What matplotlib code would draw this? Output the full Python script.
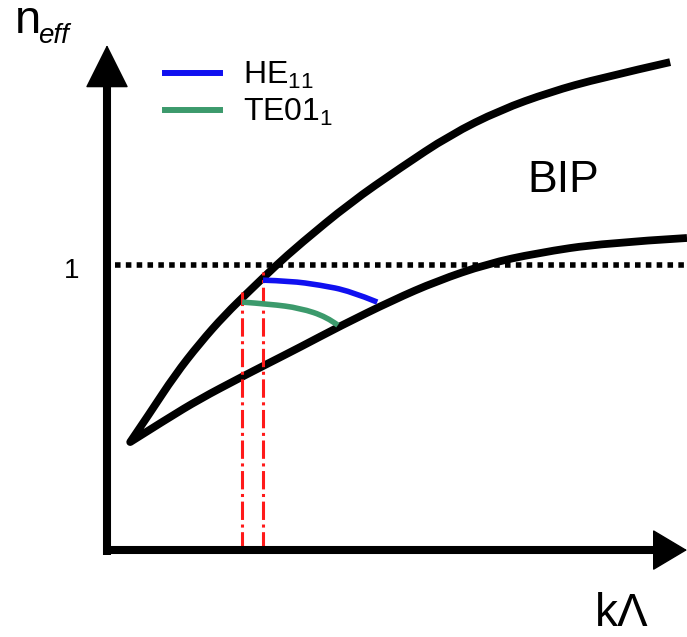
import matplotlib.pyplot as plt
from matplotlib.patches import ArrowStyle, PathPatch
from matplotlib.path import Path

plt.rcParams["font.family"] = ["Liberation Sans", "DejaVu Sans"]
plt.rcParams["mathtext.fontset"] = "custom"
plt.rcParams["mathtext.rm"] = "Liberation Sans"
plt.rcParams["mathtext.it"] = "Liberation Sans:italic"

# band gap edges (both start at the common tip)
upper_k = [0.40, 0.74, 1.17, 1.60, 2.03, 2.47, 2.90, 3.33, 4.19, 5.05, 5.91, 6.78, 7.64, 8.50, 9.71]
upper_n = [0.379, 0.481, 0.614, 0.726, 0.825, 0.912, 0.996, 1.074, 1.218, 1.340, 1.456, 1.544, 1.607, 1.656, 1.712]

lower_k = [0.40, 1.03, 1.60, 2.29, 2.76, 3.33, 4.02, 4.93, 5.69, 6.55, 7.41, 8.55, 10.0]
lower_n = [0.379, 0.460, 0.530, 0.604, 0.653, 0.712, 0.786, 0.877, 0.944, 1.004, 1.042, 1.077, 1.095]

# guided modes
he11_k = [2.69, 3.16, 3.67, 4.19, 4.66]
he11_n = [0.947, 0.944, 0.930, 0.909, 0.870]

te01_k = [2.33, 2.81, 3.33, 3.79, 3.98]
te01_n = [0.870, 0.863, 0.849, 0.818, 0.789]

# cut-off positions of the two modes
cut_k = [2.33, 2.69]
cut_n = [0.905, 0.975]

n_line = 1.0


def smooth(xs, ys, start=True):
    """Quadratic B-spline through the samples (ends are kept)."""
    pts = list(zip(xs, ys))
    verts = [pts[0]] if start else []
    codes = [Path.MOVETO] if start else []
    for i in range(1, len(pts) - 1):
        if i == len(pts) - 2:
            end = pts[-1]
        else:
            end = ((pts[i][0] + pts[i + 1][0]) / 2, (pts[i][1] + pts[i + 1][1]) / 2)
        verts += [pts[i], end]
        codes += [Path.CURVE3, Path.CURVE3]
    if len(pts) == 2:
        verts.append(pts[1])
        codes.append(Path.LINETO)
    return verts, codes


def curve(xs, ys, **kw):
    v, c = smooth(xs, ys)
    ax.add_patch(PathPatch(Path(v, c), fill=False, **kw))


fig = plt.figure(figsize=(6.87, 6.37), dpi=100)
ax = fig.add_axes([0, 0, 1, 1])
ax.set_xlim(-1.845, 10.0)
ax.set_ylim(-0.305, 1.93)
ax.axis("off")

# n = 1 reference
ax.plot([0.14, 10.0], [n_line, n_line], color="black", lw=4,
        linestyle=(0, (1, 0.95)), dash_capstyle="butt")

# band edges drawn as one path, corner at the tip
v1, c1 = smooth(upper_k[::-1], upper_n[::-1])
v2, c2 = smooth(lower_k, lower_n, start=False)
band = Path(v1 + v2, c1 + c2)
ax.add_patch(PathPatch(band, fill=False, color="black", lw=5.6,
                       joinstyle="round", capstyle="butt", zorder=3))

for k, n in zip(cut_k, cut_n):
    ax.plot([k, k], [0, n], color="#ff1a1a", lw=2.2,
            linestyle=(0, (6, 1.5, 1, 1.5)), zorder=4)

curve(he11_k, he11_n, color="#1010f0", lw=4, capstyle="butt", zorder=5)
curve(te01_k, te01_n, color="#3c9a6c", lw=4, capstyle="butt", zorder=5)
h1, = ax.plot([], [], color="#1010f0", lw=4.3, label="HE$_{11}$")
h2, = ax.plot([], [], color="#3c9a6c", lw=4.3, label="TE01$_{1}$")

# axes with arrow heads
ax.plot([0, 0], [-0.018, 1.64], color="black", lw=5.8, solid_capstyle="butt", zorder=6)
ax.plot([-0.07, 9.5], [0, 0], color="black", lw=5.8, solid_capstyle="butt", zorder=6)
ax.annotate("", xy=(0, 1.772), xytext=(0, 1.62),
            arrowprops=dict(arrowstyle=ArrowStyle("-|>", head_length=28.8, head_width=14.4),
                            mutation_scale=1, lw=1, color="black",
                            shrinkA=0, shrinkB=0), zorder=7)
ax.annotate("", xy=(10.0, 0), xytext=(9.4, 0),
            arrowprops=dict(arrowstyle=ArrowStyle("-|>", head_length=23, head_width=13.7),
                            mutation_scale=1, lw=1, color="black",
                            shrinkA=0, shrinkB=0), zorder=7)

ax.text(-1.59, 1.814, "n", fontsize=34, va="baseline", ha="left")
ax.text(-1.19, 1.779, "eff", fontsize=20, style="italic", va="baseline", ha="left")
ax.text(-0.48, 0.954, "1", fontsize=20, va="baseline", ha="right")
ax.text(7.24, 1.256, "BIP", fontsize=32, va="baseline", ha="left")
ax.text(8.41, -0.268, "kΛ", fontsize=33, va="baseline", ha="left")

ax.legend(handles=[h1, h2], loc="upper left", bbox_to_anchor=(0.240, 0.906),
          frameon=False, fontsize=23, handlelength=1.72, handletextpad=0.72,
          labelspacing=0.2, borderpad=0, borderaxespad=0)

fig.savefig("out.png", dpi=100)
